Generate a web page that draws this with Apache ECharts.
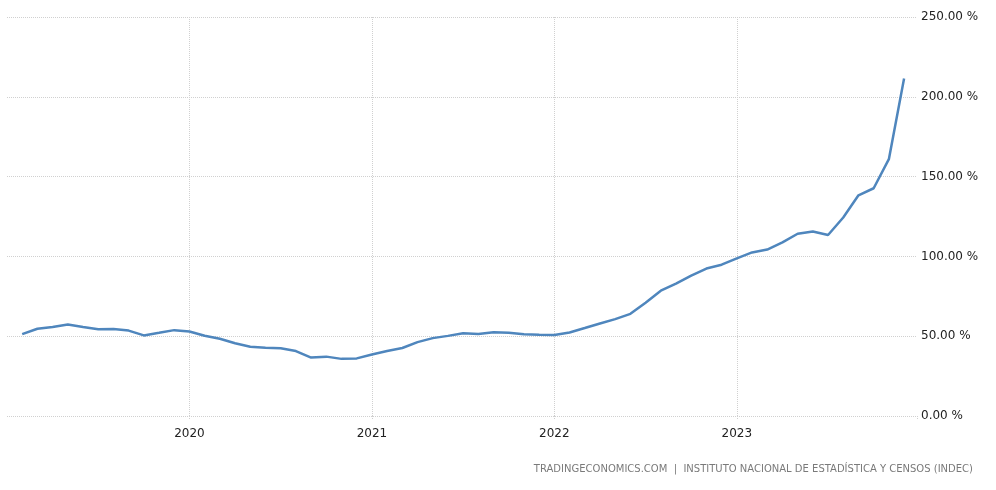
<!DOCTYPE html>
<html>
<head>
<meta charset="utf-8">
<script src="https://cdn.jsdelivr.net/npm/echarts@6/dist/echarts.min.js"></script>
<style>
html,body{margin:0;padding:0;background:#fff;}
#c{width:996px;height:490px;}
</style>
</head>
<body>
<div id="c"></div>
<script>
// Months from Feb 2019 to Dec 2023
const months = [
  '2019-02','2019-03','2019-04','2019-05','2019-06','2019-07','2019-08','2019-09','2019-10','2019-11','2019-12',
  '2020-01','2020-02','2020-03','2020-04','2020-05','2020-06','2020-07','2020-08','2020-09','2020-10','2020-11','2020-12',
  '2021-01','2021-02','2021-03','2021-04','2021-05','2021-06','2021-07','2021-08','2021-09','2021-10','2021-11','2021-12',
  '2022-01','2022-02','2022-03','2022-04','2022-05','2022-06','2022-07','2022-08','2022-09','2022-10','2022-11','2022-12',
  '2023-01','2023-02','2023-03','2023-04','2023-05','2023-06','2023-07','2023-08','2023-09','2023-10','2023-11','2023-12'
];
const inflation = [
  51.3, 54.7, 55.8, 57.3, 55.8, 54.4, 54.5, 53.5, 50.5, 52.1, 53.8,
  52.9, 50.3, 48.4, 45.6, 43.4, 42.8, 42.4, 40.7, 36.6, 37.2, 35.8, 36.1,
  38.5, 40.7, 42.6, 46.3, 48.8, 50.2, 51.8, 51.4, 52.5, 52.1, 51.2, 50.9,
  50.7, 52.3, 55.1, 58.0, 60.7, 64.0, 71.0, 78.5, 83.0, 88.0, 92.4, 94.8,
  98.8, 102.5, 104.3, 108.8, 114.2, 115.6, 113.4, 124.4, 138.3, 142.7, 160.9, 211.4
];
const yTicks = [0, 50, 100, 150, 200, 250];
const sourceText = 'TRADINGECONOMICS.COM  |  INSTITUTO NACIONAL DE ESTADÍSTICA Y CENSOS (INDEC)';

// month index: 0 = Jan 2019
function monthIndex(s) {
  const [y, m] = s.split('-').map(Number);
  return (y - 2019) * 12 + (m - 1);
}
const points = months.map((m, i) => [monthIndex(m), inflation[i]]);

const chart = echarts.init(document.getElementById('c'));
chart.setOption({
  backgroundColor: '#ffffff',
  animation: false,
  grid: { left: 7, right: 79, top: 17, bottom: 74, containLabel: false },
  graphic: [{
    type: 'text',
    right: 23,
    top: 464,
    style: {
      text: sourceText,
      fill: '#7a7a7a',
      font: '10px "DejaVu Sans", sans-serif'
    }
  }],
  xAxis: {
    type: 'value',
    min: 0,
    max: 59.85,
    interval: 12,
    axisLine: { show: false },
    axisTick: { show: true, length: 4, lineStyle: { color: '#d0d0d0', type: 'dotted' } },
    axisLabel: {
      margin: 12,
      color: '#222',
      fontSize: 12,
      fontFamily: '"DejaVu Sans", sans-serif',
      showMinLabel: false,
      formatter: v => (v > 0 && v < 59 ? String(2019 + v / 12) : '')
    },
    splitLine: {
      show: true,
      showMinLine: false,
      showMaxLine: false,
      lineStyle: { color: '#d0d0d0', type: 'dotted', width: 1 }
    }
  },
  yAxis: {
    type: 'value',
    position: 'right',
    min: yTicks[0],
    max: yTicks[yTicks.length - 1],
    interval: 50,
    axisLine: { show: false },
    axisTick: { show: false },
    axisLabel: {
      margin: 4,
      color: '#222',
      fontSize: 12,
      padding: [4, 0, 0, 0],
      fontFamily: '"DejaVu Sans", sans-serif',
      formatter: v => v.toFixed(2) + ' %'
    },
    splitLine: { lineStyle: { color: '#d0d0d0', type: 'dotted', width: 1 } }
  },
  series: [{
    type: 'line',
    data: points,
    showSymbol: false,
    smooth: false,
    lineStyle: { color: '#4f86bd', width: 2.5 },
    itemStyle: { color: '#4f86bd' }
  }]
});
</script>
</body>
</html>
